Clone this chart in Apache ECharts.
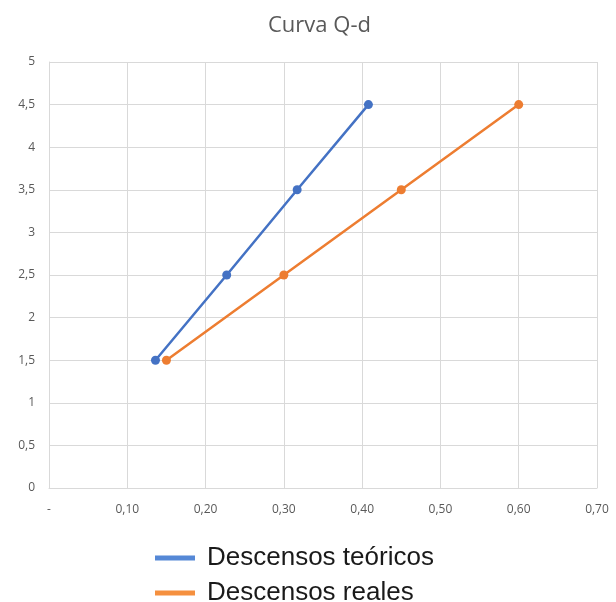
<!DOCTYPE html>
<html>
<head>
<meta charset="utf-8">
<script src="https://cdn.jsdelivr.net/npm/echarts@6/dist/echarts.min.js"></script>
<style>html,body{margin:0;padding:0;background:#fff}#c{width:616px;height:602px}</style>
</head>
<body>
<div id="c"></div>
<script>
const seriesNames = ["Descensos teóricos", "Descensos reales"];
const teoricosX = [0.136, 0.227, 0.317, 0.408];
const teoricosY = [1.5, 2.5, 3.5, 4.5];
const realesX = [0.15, 0.30, 0.45, 0.60];
const realesY = [1.5, 2.5, 3.5, 4.5];

const fmt = v => String(v).replace('.', ',');
const legendBase = {
  orient: 'vertical', left: 155, itemGap: 0, padding: 0,
  itemWidth: 40, itemHeight: 5, icon: 'rect',
  textStyle: {fontFamily: 'Liberation Sans', fontSize: 26, lineHeight: 30, color: '#1a1a1a', padding: [0,0,0,7]}
};
const chart = echarts.init(document.getElementById('c'), null, {renderer: 'canvas'});
chart.setOption({
  animation: false,
  title: {
    text: 'Curva Q-d', left: 263, top: 10,
    textStyle: {fontFamily: 'Open Sans', fontSize: 22, fontWeight: 'normal', color: '#595959'}
  },
  legend: [
    Object.assign({}, legendBase, {top: 543, data: [{name: seriesNames[0], itemStyle: {color: '#5588D6'}}]}),
    Object.assign({}, legendBase, {top: 578, data: [{name: seriesNames[1], itemStyle: {color: '#F5903F'}}]})
  ],
  grid: {left: 49, right: 19, top: 62, bottom: 114},
  xAxis: {
    type: 'value', min: 0, max: 0.7, interval: 0.1,
    axisLine: {show: true, lineStyle: {color: '#d9d9d9'}},
    axisTick: {show: false},
    splitLine: {show: true, lineStyle: {color: '#d9d9d9'}},
    axisLabel: {
      margin: 16, color: '#595959', fontFamily: 'Open Sans', fontSize: 12,
      formatter: v => v === 0 ? '-' : v.toFixed(2).replace('.', ',')
    }
  },
  yAxis: {
    type: 'value', min: 0, max: 5, interval: 0.5,
    axisLine: {show: true, lineStyle: {color: '#d9d9d9'}},
    axisTick: {show: false},
    splitLine: {show: true, lineStyle: {color: '#d9d9d9'}},
    axisLabel: {
      margin: 14, color: '#595959', fontFamily: 'Open Sans', fontSize: 12,
      formatter: v => fmt(v)
    }
  },
  series: [
    {
      name: seriesNames[0], type: 'line',
      data: teoricosX.map((x, i) => [x, teoricosY[i]]),
      symbol: 'circle', symbolSize: 9,
      lineStyle: {width: 2.5, color: '#4472C4'},
      itemStyle: {color: '#4472C4'}
    },
    {
      name: seriesNames[1], type: 'line',
      data: realesX.map((x, i) => [x, realesY[i]]),
      symbol: 'circle', symbolSize: 9,
      lineStyle: {width: 2.5, color: '#ED7D31'},
      itemStyle: {color: '#ED7D31'}
    }
  ]
});
</script>
</body>
</html>
